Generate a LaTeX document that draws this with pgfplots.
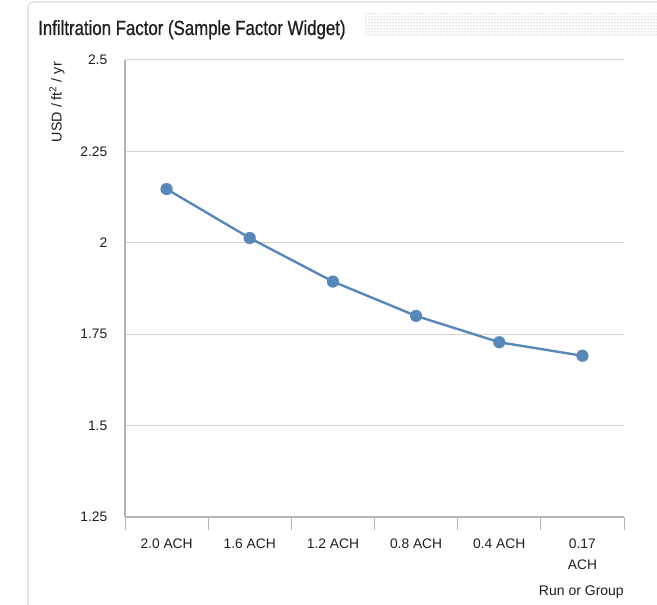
\documentclass[border=0pt]{standalone}
\usepackage{pgfplots}
\pgfplotsset{compat=1.18}
\usepackage{fontspec}
\setmainfont{Liberation Sans}
\newfontfamily\titlefont[FakeStretch=0.82,FakeBold=0.8]{Liberation Sans}
\usetikzlibrary{patterns}
\definecolor{lineblue}{RGB}{88,136,186}
\definecolor{gridgray}{RGB}{212,212,212}
\definecolor{axisgray}{RGB}{180,180,180}
\definecolor{txt}{RGB}{30,30,30}
\definecolor{framegray}{RGB}{225,225,225}
\begin{document}
\begin{tikzpicture}[x=1pt,y=1pt]
\useasboundingbox (0,0) rectangle (657,605);
% widget frame
\draw[framegray, line width=1.5pt, rounded corners=6pt] (28,-5) -- (28,603) -- (680,603);
% hatched strip next to title
\fill[pattern=dots, pattern color=black!45] (364,568) rectangle (657,592);
\node[anchor=base west, inner sep=0pt, text=txt] at (38,570)
  {\titlefont\fontsize{20.5}{22}\selectfont Infiltration Factor (Sample Factor Widget)};
% y axis label
\node[rotate=90, anchor=east, inner sep=0pt, text=txt] at (57,543)
  {\fontsize{14.3}{16}\selectfont USD / ft\textsuperscript{2} / yr};
\begin{axis}[
  at={(125pt,88pt)}, anchor=south west,
  scale only axis, width=499pt, height=457pt,
  xmin=-0.5, xmax=5.5, ymin=1.25, ymax=2.5,
  xtick={0,1,2,3,4,5},
  xticklabels={2.0 ACH,1.6 ACH,1.2 ACH,0.8 ACH,0.4 ACH,{0.17\\ACH}},
  minor xtick={-0.5,0.5,1.5,2.5,3.5,4.5,5.5},
  major x tick style={draw=none},
  minor tick length=13pt,
  tick align=outside,
  x tick style={axisgray, line width=1pt},
  ytick={1.25,1.5,1.75,2,2.25,2.5},
  yticklabels={1.25,1.5,1.75,2,2.25,2.5},
  y tick style={draw=none},
  ymajorgrids, grid style={gridgray, line width=1pt},
  axis line style={axisgray, line width=1.2pt},
  axis x line*=bottom, axis y line*=left,
  xticklabel style={align=center, font=\fontsize{13.8}{21}\selectfont, text=txt, yshift=-14pt},
  yticklabel style={font=\fontsize{13.8}{16}\selectfont, text=txt, xshift=-10pt},
  /pgf/number format/assume math mode=true,
  clip=false,
]
\addplot[lineblue, line width=2.4pt, mark=*, mark size=6pt, mark options={fill=lineblue, draw=lineblue, line width=0.1pt}]
  coordinates {(0,2.147) (1,2.013) (2,1.894) (3,1.800) (4,1.728) (5,1.691)};
\node[anchor=east, inner sep=0pt, text=txt, font=\fontsize{14}{16}\selectfont] at (axis cs:5.5,1.25) [yshift=-75pt] {Run or Group};
\end{axis}
\end{tikzpicture}
\end{document}
